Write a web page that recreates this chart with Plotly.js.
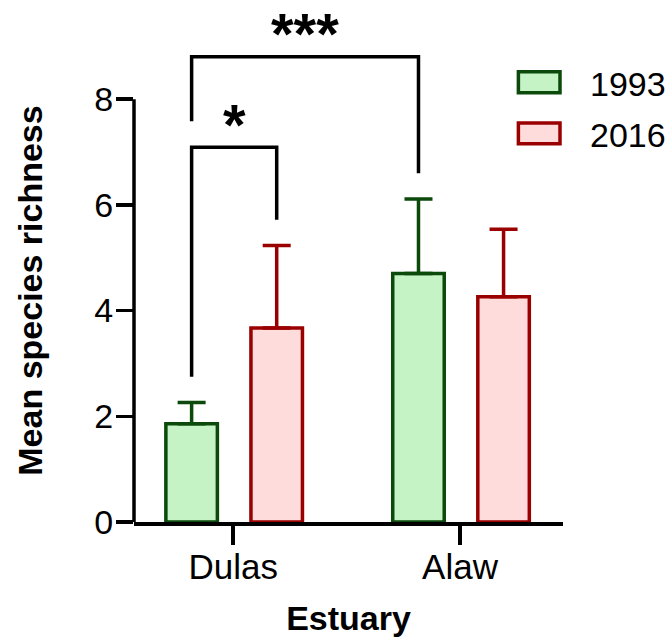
<!DOCTYPE html>
<html><head><meta charset="utf-8">
<script src="https://cdn.plot.ly/plotly-3.0.1.min.js"></script>
<style>html,body{margin:0;padding:0;background:#fff}#chart{width:667px;height:637px}</style>
</head><body><div id="chart"></div>
<script>
const categories = ['Dulas', 'Alaw'];
const years = ['1993', '2016'];
const mean1993 = [1.86, 4.70];
const err1993 = [0.40, 1.41];
const mean2016 = [3.67, 4.26];
const err2016 = [1.56, 1.28];
const yTicks = [0, 2, 4, 6, 8];
// significance comparisons (category index, series index)
const sigLabels = ['*', '***'];
const sigFrom = [[0, 0], [0, 0]];
const sigTo = [[0, 1], [1, 0]];
const sigTop = [7.09, 8.80];
const sigFromBottom = [2.75, 7.58];
const sigToBottom = [5.72, 6.60];

const FONT = 'Liberation Sans, Arial, sans-serif';
const borderColors = ['#0b4a0b', '#9a0000'];
const fillColors = ['#c5f3c5', '#ffdcdc'];
const barCenters = [-0.183, 0.192];
const barWidth = 0.227;
const LW = 3.5;

const means = [mean1993, mean2016];
const errs = [err1993, err2016];

const traces = years.map((yr, i) => ({
  type: 'bar',
  name: yr,
  x: categories,
  y: means[i],
  width: barWidth,
  offset: barCenters[i] - barWidth / 2,
  marker: { color: fillColors[i], line: { color: borderColors[i], width: LW } },
  error_y: {
    type: 'data', symmetric: false, array: errs[i], arrayminus: errs[i].map(() => 0),
    color: borderColors[i], thickness: LW, width: 14
  },
  showlegend: false,
  hoverinfo: 'x+y'
}));

const shapes = [];
const annotations = [];

// y axis line from 0 to 8
shapes.push({ type: 'line', xref: 'paper', yref: 'y', x0: 0, x1: 0, y0: 0, y1: yTicks[yTicks.length - 1],
  line: { color: '#000', width: LW } });

// significance brackets
sigLabels.forEach((lab, k) => {
  const xa = sigFrom[k][0] + barCenters[sigFrom[k][1]];
  const xb = sigTo[k][0] + barCenters[sigTo[k][1]];
  shapes.push({ type: 'path', xref: 'x', yref: 'y',
    path: `M ${xa},${sigFromBottom[k]} L ${xa},${sigTop[k]} L ${xb},${sigTop[k]} L ${xb},${sigToBottom[k]}`,
    line: { color: '#000', width: LW } });
  annotations.push({ xref: 'x', yref: 'y', x: (xa + xb) / 2, y: sigTop[k] - 0.22,
    text: lab, showarrow: false, xanchor: 'center', yanchor: 'bottom',
    font: { family: FONT, size: 58, color: '#000', weight: 'bold' } });
});

// custom legend
const legY = [[0.8694, 0.8289], [0.7705, 0.7300]];
years.forEach((yr, i) => {
  shapes.push({ type: 'rect', xref: 'paper', yref: 'paper', x0: 0.896, x1: 0.993, y0: legY[i][1], y1: legY[i][0],
    fillcolor: fillColors[i], line: { color: borderColors[i], width: LW } });
  annotations.push({ xref: 'paper', yref: 'paper', x: 1.058, y: (legY[i][0] + legY[i][1]) / 2 - 0.004,
    text: yr, showarrow: false, xanchor: 'left', yanchor: 'middle',
    font: { family: FONT, size: 34, color: '#000' } });
});

// y title
annotations.push({ xref: 'paper', yref: 'paper', x: -0.2424, y: 0.4465, text: '<b>Mean species richness</b>',
  textangle: -90, showarrow: false, xanchor: 'center', yanchor: 'middle',
  font: { family: FONT, size: 34, color: '#000' } });

const layout = {
  width: 667, height: 637,
  margin: { l: 134, r: 104, t: 4, b: 114.5 },
  paper_bgcolor: '#fff', plot_bgcolor: '#fff',
  barmode: 'overlay',
  showlegend: false,
  font: { family: FONT, color: '#000' },
  xaxis: {
    type: 'category', range: [-0.437, 1.454],
    showline: true, linecolor: '#000', linewidth: LW,
    ticks: 'outside', ticklen: 19, tickwidth: LW, tickcolor: '#000',
    tickfont: { family: FONT, size: 35, color: '#000' },
    ticklabelstandoff: -8,
    showgrid: false, zeroline: false, fixedrange: true,
    title: { text: '<b>Estuary</b>', font: { family: FONT, size: 34, color: '#000' }, standoff: 34 }
  },
  yaxis: {
    range: [0, 9.8], tickvals: yTicks, ticktext: yTicks.map(String),
    showline: false, ticks: 'outside', ticklen: 17, tickwidth: LW, tickcolor: '#000',
    tickfont: { family: FONT, size: 34, color: '#000' },
    ticklabelstandoff: -4,
    showgrid: false, zeroline: false, fixedrange: true
  },
  shapes: shapes,
  annotations: annotations
};

Plotly.newPlot('chart', traces, layout, { displayModeBar: false, staticPlot: true });
</script>
</body></html>
